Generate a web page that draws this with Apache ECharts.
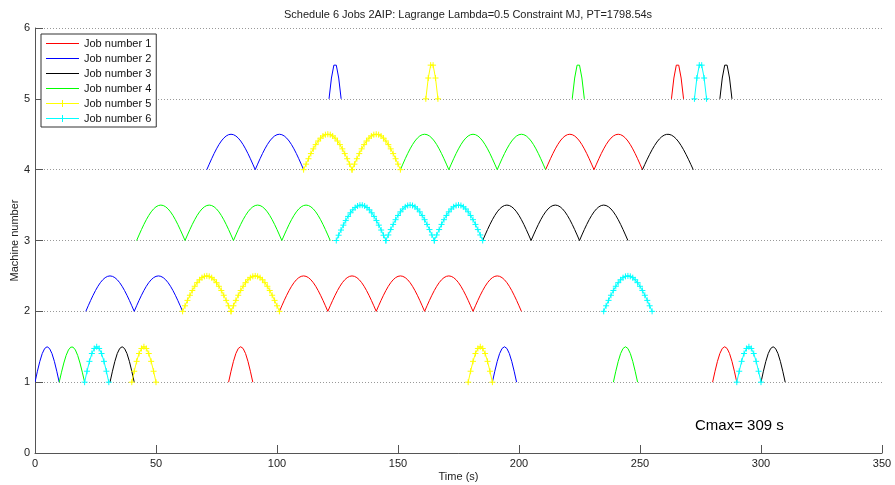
<!DOCTYPE html>
<html>
<head>
<meta charset="utf-8">
<script src="https://cdn.jsdelivr.net/npm/echarts@6/dist/echarts.min.js"></script>
<style>
  html, body { margin: 0; padding: 0; background: #fff; }
  #main { width: 895px; height: 485px; }
</style>
</head>
<body>
<div id="main"></div>
<script>
// operations per job: [machine, start time, end time]
var job1 = [[1, 80, 90], [2, 101, 121], [2, 121, 141], [2, 141, 161], [2, 161, 181], [2, 181, 201],
	[4, 211, 231], [4, 231, 251], [5, 263, 268], [1, 280, 290]];
var job2 = [[1, 0, 10], [2, 21, 41], [2, 41, 61], [4, 71, 91], [4, 91, 111], [5, 121.5, 126.5], [1, 189, 199]];
var job3 = [[1, 31, 41], [3, 185, 205], [3, 205, 225], [3, 225, 245], [4, 251, 272], [5, 283, 288], [1, 300, 310]];
var job4 = [[1, 10, 20.5], [3, 42, 62], [3, 62, 82], [3, 82, 102], [3, 102, 122], [4, 151, 171], [4, 171, 191],
	[4, 191, 211], [5, 222, 227], [1, 239, 249]];
var job5 = [[1, 40, 50], [2, 61, 81], [2, 81, 101], [4, 111, 131], [4, 131, 151], [5, 161.5, 166.5], [1, 179, 189]];
var job6 = [[1, 20.5, 30.5], [3, 124.5, 145], [3, 145, 165], [3, 165, 185], [2, 235, 255], [5, 272.5, 277.5], [1, 290, 300]];

var jobNames = ['Job number 1', 'Job number 2', 'Job number 3', 'Job number 4', 'Job number 5', 'Job number 6'];
var jobColors = ['#ff0000', '#0000ff', '#000000', '#00ff00', '#ffff00', '#00ffff'];
var jobMarked = [false, false, false, false, true, true];
var xTicks = [0, 50, 100, 150, 200, 250, 300, 350];
var yTicks = [0, 1, 2, 3, 4, 5, 6];
var cmax = 309;

var jobs = [job1, job2, job3, job4, job5, job6];
var FONT = '"Liberation Sans", Arial, sans-serif';

// each operation is drawn as a half-wave on its machine line, one point per second
function makeRender(color, marked) {
	return function(params, api) {
		var m = api.value(0), s = api.value(1), e = api.value(2);
		var n = Math.max(1, Math.round(e - s));
		var pts = [];
		for (var k = 0; k <= n; k++) {
			pts.push(api.coord([s + (e - s) * k / n, m + 0.5 * Math.sin(Math.PI * k / n)]));
		}
		var children = [{
			type: 'polyline',
			shape: { points: pts },
			style: { stroke: color, fill: null, lineWidth: 1 }
		}];
		if (marked) {
			pts.forEach(function(p) {
				children.push({
					type: 'line',
					shape: { x1: p[0] - 3, y1: p[1], x2: p[0] + 3, y2: p[1] },
					style: { stroke: color, lineWidth: 1 }
				});
				children.push({
					type: 'line',
					shape: { x1: p[0], y1: p[1] - 3, x2: p[0], y2: p[1] + 3 },
					style: { stroke: color, lineWidth: 1 }
				});
			});
		}
		return { type: 'group', children: children };
	};
}

var lineIcon = 'path://M0,4.5H33V5.5H0Z';
var plusIcon = 'path://M0,4.5H33V5.5H0Z M16,1.5H17V8.5H16Z';

var series = jobs.map(function(ops, j) {
	return {
		name: jobNames[j],
		type: 'custom',
		renderItem: makeRender(jobColors[j], jobMarked[j]),
		itemStyle: { color: jobColors[j] },
		encode: { x: [1, 2], y: 0 },
		data: ops,
		clip: true
	};
});

var chart = echarts.init(document.getElementById('main'), null, { renderer: 'canvas' });
chart.setOption({
	animation: false,
	backgroundColor: '#fff',
	title: [{
		text: 'Schedule 6 Jobs 2AIP: Lagrange Lambda=0.5 Constraint MJ, PT=1798.54s',
		left: 284,
		top: 9,
		padding: 0,
		textStyle: { fontFamily: FONT, fontSize: 11, fontWeight: 'normal', color: '#222' }
	}, {
		text: 'Cmax= ' + cmax + ' s',
		left: 695,
		top: 418,
		padding: 0,
		textStyle: { fontFamily: FONT, fontSize: 15, fontWeight: 'normal', color: '#000' }
	}],
	legend: {
		orient: 'vertical',
		left: 41,
		top: 34,
		padding: [3, 5, 2, 5],
		itemWidth: 33,
		itemHeight: 10,
		itemGap: 2,
		borderColor: '#333',
		borderWidth: 1,
		backgroundColor: '#fff',
		textStyle: { fontFamily: FONT, fontSize: 11, color: '#111', lineHeight: 13 },
		data: jobNames.map(function(n, j) {
			return { name: n, icon: jobMarked[j] ? plusIcon : lineIcon };
		})
	},
	grid: { left: 35, right: 13, top: 28, bottom: 32, containLabel: false, outerBoundsMode: 'none' },
	xAxis: {
		type: 'value',
		min: xTicks[0],
		max: xTicks[xTicks.length - 1],
		interval: 50,
		name: 'Time (s)',
		nameLocation: 'middle',
		nameGap: 18,
		nameMoveOverlap: false,
		nameTextStyle: { fontFamily: FONT, fontSize: 11, color: '#222' },
		axisLine: { lineStyle: { color: '#555', width: 1 } },
		axisTick: { inside: true, length: 8, lineStyle: { color: '#555' } },
		axisLabel: { fontFamily: FONT, fontSize: 11, color: '#222', margin: 5 },
		splitLine: { show: false }
	},
	yAxis: {
		type: 'value',
		min: yTicks[0],
		max: yTicks[yTicks.length - 1],
		interval: 1,
		name: 'Machine number',
		nameLocation: 'middle',
		nameGap: 15,
		nameMoveOverlap: false,
		nameTextStyle: { fontFamily: FONT, fontSize: 11, color: '#222' },
		axisLine: { show: true, lineStyle: { color: '#555', width: 1 } },
		axisTick: { show: true, inside: true, length: 8, lineStyle: { color: '#555' } },
		axisLabel: { fontFamily: FONT, fontSize: 11, color: '#222', margin: 5 },
		splitLine: { show: true, lineStyle: { color: '#999', width: 1, type: [1, 2] } }
	},
	series: series
});
</script>
</body>
</html>
